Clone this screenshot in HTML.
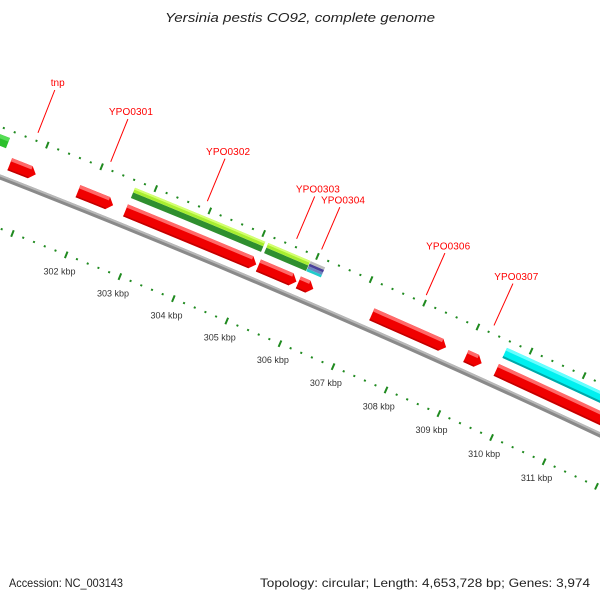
<!DOCTYPE html>
<html><head><meta charset="utf-8"><style>
html,body{margin:0;padding:0;background:#fff;}
svg{display:block;}
text{font-family:"Liberation Sans",sans-serif;}
</style></head><body>
<svg id="map" xmlns="http://www.w3.org/2000/svg" width="600" height="600" viewBox="0 0 600 600">
<rect x="0" y="0" width="600" height="600" fill="#fff"/>
<text x="300" y="22" text-anchor="middle" font-size="13" font-style="italic" fill="#222" textLength="270" lengthAdjust="spacingAndGlyphs">Yersinia pestis CO92, complete genome</text>
<g id="layer"></g>
<text x="9" y="587" font-size="12" fill="#222" textLength="114" lengthAdjust="spacingAndGlyphs">Accession: NC_003143</text>
<text x="590" y="587" text-anchor="end" font-size="12" fill="#222" textLength="330" lengthAdjust="spacingAndGlyphs">Topology: circular; Length: 4,653,728 bp; Genes: 3,974</text>
</svg>
<script>
// ---- data (bp) ----
const tickStart = 299000;
const tickEnd = 313000;
const minorStep = 200;
const kbpLabels = [302, 303, 304, 305, 306, 307, 308, 309, 310, 311];
const geneStarts = [300520, 301780, 302660, 305130, 305875, 307250, 309017, 309590];
const geneEnds   = [301000, 302430, 305090, 305840, 306155, 308645, 309315, 312500];
const cogStarts = [299000, 302665, 305137, 305925, 309600];
const cogEnds   = [300360, 305080, 305918, 306195, 312500];
const cogKinds  = ["green", "lime", "lime", "multi", "cyan"];
const labelNames = ["tnp", "YPO0301", "YPO0302", "YPO0303", "YPO0304", "YPO0306", "YPO0307"];
const labelPositions = [300774, 302113, 303898, 305554, 306019, 307971, 309240];

// ---- geometry (circular map, large radius) ----
const CX = -3568, CY = 9304.4, R = 9800;
function ang(bp){ return (-68.12 + (bp - 302000) * 0.00034) * Math.PI / 180; }
function pt(bp, dr){ const a = ang(bp), r = R + dr; return [CX + r*Math.cos(a), CY + r*Math.sin(a)]; }
const NS = "http://www.w3.org/2000/svg";
const layer = document.getElementById("layer");
function mk(tag, attrs){ const e = document.createElementNS(NS, tag); for (const k in attrs) e.setAttribute(k, attrs[k]); layer.appendChild(e); return e; }
function band(s, e, r0, r1){
  const pts = [];
  const n = Math.max(2, Math.ceil((e - s) / 500));
  for (let i = 0; i <= n; i++){ pts.push(pt(s + (e - s)*i/n, r1)); }
  for (let i = n; i >= 0; i--){ pts.push(pt(s + (e - s)*i/n, r0)); }
  return pts.map(p => p[0].toFixed(2) + "," + p[1].toFixed(2)).join(" ");
}
function arrow(s, e, r0, r1){
  const head = 100;
  const hs = Math.max(s, e - head);
  const pts = [pt(s, r0), pt(hs, r0), pt(e, (r0 + r1)/2), pt(hs, r1), pt(s, r1)];
  return pts.map(p => p[0].toFixed(2) + "," + p[1].toFixed(2)).join(" ");
}

// backbone
let el;
el = mk("polygon", {points: band(299000, 313000, -2.5, 2.5), fill: "#8a8a8a"});


el = mk("polygon", {points: band(299000, 313000, 0.5, 2.5), fill: "#b8b8b8"});



// genes (forward strand, red arrows)
for (let i = 0; i < geneStarts.length; i++){
  const s = geneStarts[i], e = geneEnds[i];
  el = mk("polygon", {points: arrow(s, e, 9, 22), fill: "#f00000"});
  
  
  el = mk("polygon", {points: band(s, Math.max(s, e - 100), 18.5, 22), fill: "#ff6a6a"});
  
  
  el = mk("polygon", {points: band(s, Math.max(s, e - 100), 9, 10.5), fill: "#c00000"});
  
  
}

// COG / category track
for (let i = 0; i < cogStarts.length; i++){
  const s = cogStarts[i], e = cogEnds[i], k = cogKinds[i];
  if (k === "lime"){
    el = mk("polygon", {points: band(s, e, 29, 35), fill: "#2f8f2f"});
    
    
    el = mk("polygon", {points: band(s, e, 35, 40), fill: "#a8ee30"});
    
    
    el = mk("polygon", {points: band(s, e, 38, 40), fill: "#d4ff70"});
    
    
  } else if (k === "green"){
    el = mk("polygon", {points: band(s, e, 29, 40), fill: "#2cbf2c"});
    
    
    el = mk("polygon", {points: band(s, e, 36, 40), fill: "#55dd55"});
    
    
  } else if (k === "cyan"){
    el = mk("polygon", {points: band(s, e, 29, 40), fill: "#00f0f0"});
    
    
    el = mk("polygon", {points: band(s, e, 29, 31), fill: "#00a8a8"});
    
    
    el = mk("polygon", {points: band(s, e, 37, 40), fill: "#66ffff"});
    
    
  } else {
    const cols = ["#22cccc", "#6a86c0", "#4a3f9a", "#bdbdbd"];
    for (let j = 0; j < 4; j++){
      el = mk("polygon", {points: band(s, e, 29 + j*2.75, 29 + (j+1)*2.75), fill: cols[j]});
      
      
    }
  }
}

// ruler ticks (outer and inner)
for (let bp = tickStart; bp <= tickEnd; bp += minorStep){
  const major = (bp % 1000) === 0;
  const h = major ? 3.5 : 1;
  const rows = [47, -48];
  for (let k = 0; k < rows.length; k++){
    const a = pt(bp, rows[k] - h), b = pt(bp, rows[k] + h);
    el = mk("line", {x1: a[0].toFixed(2), y1: a[1].toFixed(2), x2: b[0].toFixed(2), y2: b[1].toFixed(2), stroke: "#1f8a1f", "stroke-width": 2});
    
    
  }
}
for (let i = 0; i < kbpLabels.length; i++){
  const p = pt(kbpLabels[i] * 1000, -66);
  el = mk("text", {x: p[0].toFixed(2), y: (p[1] + 3).toFixed(2), "text-anchor": "middle", "font-size": "9", fill: "#333"});
  el.textContent = kbpLabels[i] + " kbp";
  
  
}

// feature labels
for (let i = 0; i < labelNames.length; i++){
  const bp = labelPositions[i];
  const a = pt(bp, 55), b = pt(bp, 101), t = pt(bp, 109);
  el = mk("line", {x1: a[0].toFixed(2), y1: a[1].toFixed(2), x2: b[0].toFixed(2), y2: b[1].toFixed(2), stroke: "#ff0000", "stroke-width": 1});
  
  
  el = mk("text", {x: t[0].toFixed(2), y: (t[1] + 3.5).toFixed(2), "text-anchor": "middle", "font-size": "10", fill: "#ff0000"});
  if (labelNames[i].length > 3) el.setAttribute("textLength", "44");
  el.textContent = labelNames[i];
  
  
}
</script>
</body></html>
